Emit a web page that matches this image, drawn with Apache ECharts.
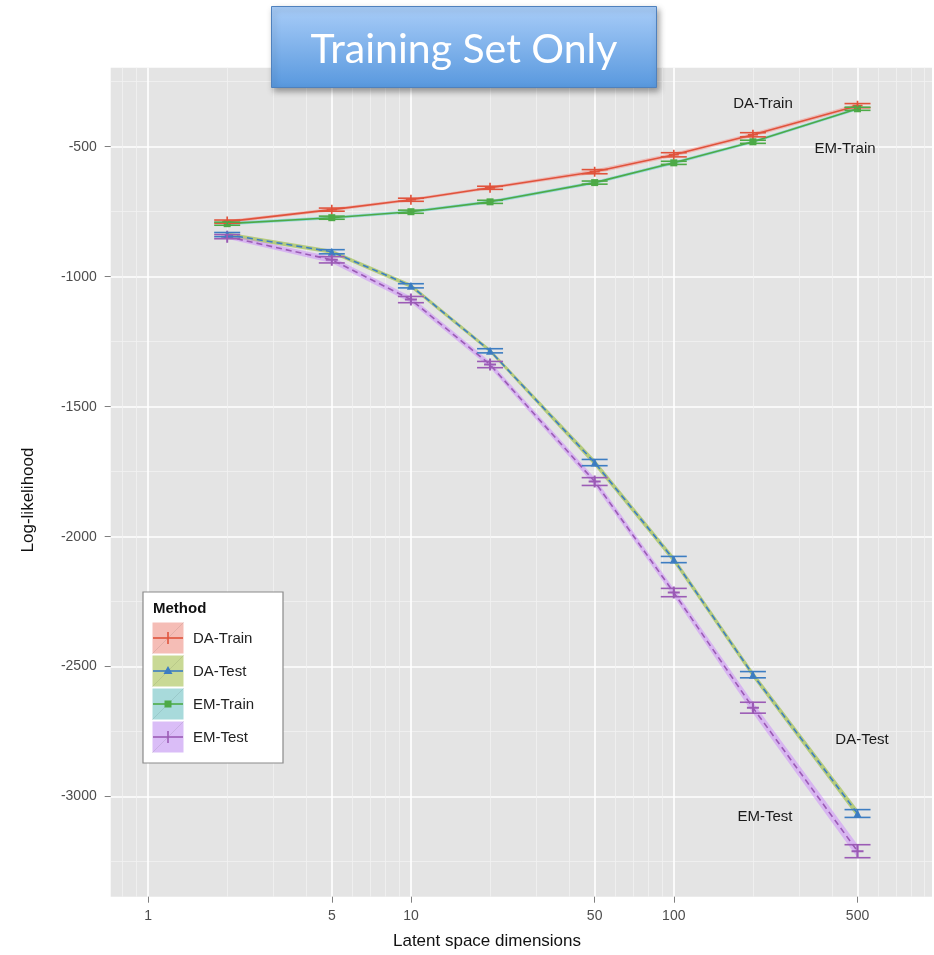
<!DOCTYPE html>
<html>
<head>
<meta charset="utf-8">
<script src="https://cdn.jsdelivr.net/npm/echarts@6/dist/echarts.min.js"></script>
<style>
html,body{margin:0;padding:0;background:#fff;}
#chart{width:934px;height:955px;}
</style>
</head>
<body>
<div id="chart"></div>
<script>
// ---- data ----
const dims = [2, 5, 10, 20, 50, 100, 200, 500];
const daTrain    = [-788, -742, -704, -658, -596, -531, -454, -342];
const daTrainErr = [6, 6, 6, 6, 8, 8, 8, 8];
const emTrain    = [-796, -773, -750, -712, -638, -562, -481, -354];
const emTrainErr = [6, 6, 6, 6, 6, 6, 6, 6];
const daTest     = [-838, -904, -1035, -1285, -1715, -2088, -2531, -3065];
const daTestErr  = [8, 8, 8, 8, 12, 12, 12, 15];
const emTest     = [-846, -935, -1088, -1338, -1788, -2215, -2658, -3210];
const emTestErr  = [8, 12, 12, 12, 15, 16, 21, 25];
const xTicks = [1, 5, 10, 50, 100, 500];
const xMinor = [0.8, 0.9, 2, 3, 4, 6, 7, 8, 9, 20, 30, 40, 60, 70, 80, 90, 200, 300, 400, 600, 700, 800, 900];
const yTicks = [-3000, -2500, -2000, -1500, -1000, -500];
const yMinor = [-3250, -2750, -2250, -1750, -1250, -750, -250];
const methods = ['DA-Train', 'DA-Test', 'EM-Train', 'EM-Test'];

const FONT = 'Liberation Sans, Arial, sans-serif';
const PLUS = 'path://M-1,-6 L1,-6 L1,-1 L6,-1 L6,1 L1,1 L1,6 L-1,6 L-1,1 L-6,1 L-6,-1 L-1,-1 Z';

const cfg = [
  {name: methods[0], y: daTrain, err: daTrainErr, line: '#E0533C', fill: 'rgba(248,118,109,0.4)', key: '#F5BDB6', dash: 'solid', symbol: PLUS, size: 10},
  {name: methods[1], y: daTest,  err: daTestErr,  line: '#3D7DC2', fill: 'rgba(124,174,0,0.45)', key: '#C9D995', dash: [6, 4], symbol: 'triangle', size: 8},
  {name: methods[2], y: emTrain, err: emTrainErr, line: '#4DAA47', fill: 'rgba(0,191,196,0.35)', key: '#A8DADB', dash: 'solid', symbol: 'rect', size: 7},
  {name: methods[3], y: emTest,  err: emTestErr,  line: '#9B5BB5', fill: 'rgba(199,124,255,0.45)', key: '#DABDF7', dash: [6, 4], symbol: PLUS, size: 12}
];

const series = [];
cfg.forEach((c, k) => {
  const lo = c.y.map((v, i) => v - c.err[i]);
  const hi = c.y.map((v, i) => v + c.err[i]);
  // ribbon
  series.push({
    type: 'custom', name: c.name + '-band', xAxisIndex: 1, yAxisIndex: 1, z: 2,
    data: dims.map((d, i) => [d, lo[i], hi[i]]),
    renderItem: function (params, api) {
      if (params.dataIndex !== 0) return null;
      const pts = [];
      for (let i = 0; i < dims.length; i++) pts.push(api.coord([dims[i], hi[i]]));
      for (let i = dims.length - 1; i >= 0; i--) pts.push(api.coord([dims[i], lo[i]]));
      return {type: 'polygon', shape: {points: pts}, style: {fill: c.fill, stroke: null}};
    },
    silent: true
  });
  // line
  series.push({
    type: 'line', name: c.name, xAxisIndex: 1, yAxisIndex: 1, z: 3,
    data: dims.map((d, i) => [d, c.y[i]]),
    symbol: c.symbol, symbolSize: c.size,
    itemStyle: {color: c.line},
    lineStyle: {color: c.line, width: 1.6, type: c.dash},
    silent: true, animation: false
  });
  // error bars
  series.push({
    type: 'custom', name: c.name + '-err', xAxisIndex: 1, yAxisIndex: 1, z: 4,
    data: dims.map((d, i) => [d, lo[i], hi[i]]),
    encode: {x: 0, y: [1, 2]},
    renderItem: function (params, api) {
      const a = api.coord([api.value(0), api.value(1)]);
      const b = api.coord([api.value(0), api.value(2)]);
      const hw = 13;
      const st = {stroke: c.line, lineWidth: 1.6};
      return {type: 'group', children: [
        {type: 'line', shape: {x1: a[0], y1: a[1], x2: b[0], y2: b[1]}, style: st},
        {type: 'line', shape: {x1: a[0] - hw, y1: a[1], x2: a[0] + hw, y2: a[1]}, style: st},
        {type: 'line', shape: {x1: b[0] - hw, y1: b[1], x2: b[0] + hw, y2: b[1]}, style: st}
      ]};
    },
    silent: true
  });
});

// legend graphics
const LZ = 60;
const legendChildren = [
  {type: 'rect', z: LZ, shape: {x: 143, y: 592, width: 140, height: 171}, style: {fill: '#fff', stroke: '#8a8a8a', lineWidth: 1.2}},
  {type: 'text', z: LZ + 1, style: {x: 153, y: 609, text: 'Method', font: 'bold 15px ' + FONT, fill: '#111', verticalAlign: 'middle'}}
];
cfg.forEach((c, k) => {
  const y0 = 622 + k * 33;
  legendChildren.push({type: 'rect', z: LZ + 1, shape: {x: 152, y: y0, width: 32, height: 32}, style: {fill: c.key, stroke: '#ffffff', lineWidth: 1}});
  legendChildren.push({type: 'line', z: LZ + 2, shape: {x1: 152, y1: y0 + 32, x2: 184, y2: y0}, style: {stroke: 'rgba(0,0,0,0.08)', lineWidth: 1}});
  legendChildren.push({type: 'line', z: LZ + 3, shape: {x1: 153, y1: y0 + 16, x2: 183, y2: y0 + 16}, style: {stroke: c.line, lineWidth: 1.6}});
  let sym;
  if (c.symbol === 'triangle') sym = {type: 'polygon', shape: {points: [[168, y0 + 11], [172.5, y0 + 19], [163.5, y0 + 19]]}, style: {fill: c.line}};
  else if (c.symbol === 'rect') sym = {type: 'rect', shape: {x: 164.5, y: y0 + 12.5, width: 7, height: 7}, style: {fill: c.line}};
  else sym = {type: 'line', shape: {x1: 168, y1: y0 + 10, x2: 168, y2: y0 + 22}, style: {stroke: c.line, lineWidth: 1.6}};
  sym.z = LZ + 4;
  legendChildren.push(sym);
  legendChildren.push({type: 'text', z: LZ + 4, style: {x: 193, y: y0 + 17, text: c.name, font: '15px ' + FONT, fill: '#222', verticalAlign: 'middle'}});
});

const annotations = [
  {text: 'DA-Train', x: 763, y: 104},
  {text: 'EM-Train', x: 845, y: 149},
  {text: 'DA-Test', x: 862, y: 740},
  {text: 'EM-Test', x: 765, y: 817}
];

const chart = echarts.init(document.getElementById('chart'), null, {renderer: 'canvas'});
chart.setOption({
  animation: false,
  backgroundColor: '#fff',
  grid: {left: 110.7, right: 2, top: 67.7, bottom: 58.3, show: true, backgroundColor: '#E4E4E4', borderWidth: 0, containLabel: false, outerBoundsMode: 'none'},
  xAxis: [
    {type: 'log', logBase: 10, min: 0.721, max: 960, gridIndex: 0, position: 'bottom',
      axisLine: {show: false},
      axisTick: {show: false, customValues: xMinor},
      axisLabel: {show: false},
      splitLine: {show: true, lineStyle: {color: '#F1F1F1', width: 0.8}}},
    {type: 'log', logBase: 10, min: 0.721, max: 960, gridIndex: 0, position: 'bottom',
      axisLine: {show: false},
      axisTick: {show: true, length: 6, customValues: xTicks, lineStyle: {color: '#7f7f7f', width: 1}},
      axisLabel: {show: true, customValues: xTicks, margin: 12, color: '#4D4D4D', fontSize: 14, fontFamily: FONT},
      splitLine: {show: true, lineStyle: {color: '#ffffff', width: 1.6}}}
  ],
  yAxis: [
    {type: 'value', min: -3385, max: -196, gridIndex: 0, position: 'left',
      axisLine: {show: false},
      axisTick: {show: false, customValues: yMinor},
      axisLabel: {show: false},
      splitLine: {show: true, lineStyle: {color: '#F1F1F1', width: 0.8}}},
    {type: 'value', min: -3385, max: -196, gridIndex: 0, position: 'left',
      axisLine: {show: false},
      axisTick: {show: true, length: 6, customValues: yTicks, lineStyle: {color: '#7f7f7f', width: 1}},
      axisLabel: {show: true, customValues: yTicks, margin: 14, color: '#4D4D4D', fontSize: 14, fontFamily: FONT,
        formatter: function (v) { return String(v); }},
      splitLine: {show: true, lineStyle: {color: '#ffffff', width: 1.6}}}
  ],
  series: series,
  graphic: [
    {type: 'text', z: 50, style: {x: 487, y: 941, text: 'Latent space dimensions', font: '17px ' + FONT, fill: '#111', align: 'center', verticalAlign: 'middle'}},
    {type: 'text', z: 50, x: 28, y: 500, rotation: Math.PI / 2, style: {x: 0, y: 0, text: 'Log-likelihood', font: '17px ' + FONT, fill: '#111', align: 'center', verticalAlign: 'middle'}},
    ...annotations.map(a => ({type: 'text', z: 50, style: {x: a.x, y: a.y, text: a.text, font: '15px ' + FONT, fill: '#1a1a1a', align: 'center', verticalAlign: 'middle'}})),
    {type: 'group', children: legendChildren},
    {type: 'rect', shape: {x: 271.5, y: 6.5, width: 385, height: 81},
      style: {
        fill: new echarts.graphic.LinearGradient(0, 0, 0, 1, [{offset: 0, color: '#A9CDF8'}, {offset: 1, color: '#5898DE'}]),
        stroke: '#4F81BD', lineWidth: 1,
        shadowBlur: 6, shadowOffsetX: 2, shadowOffsetY: 3, shadowColor: 'rgba(0,0,0,0.35)'
      }, z: 100},
    {type: 'text', z: 101, style: {x: 464, y: 50, text: 'Training Set Only', font: '41px Lato, "Open Sans", sans-serif', fill: '#ffffff', align: 'center', verticalAlign: 'middle'}}
  ]
});
</script>
</body>
</html>
